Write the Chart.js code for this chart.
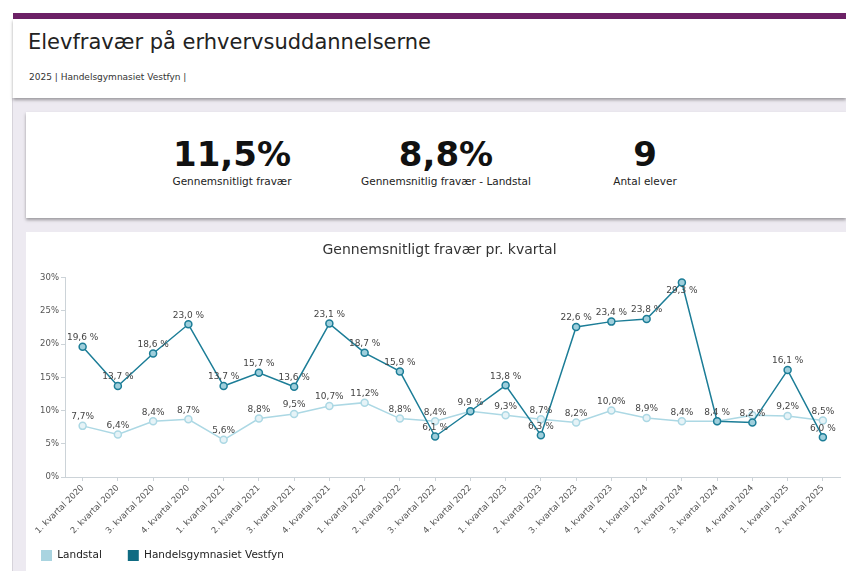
<!DOCTYPE html>
<html lang="da">
<head>
<meta charset="UTF-8">
<title>Elevfravær på erhvervsuddannelserne</title>
<script src="https://cdn.jsdelivr.net/npm/chart.js"></script>
</head>
<body style="margin:0;width:846px;height:571px;overflow:hidden;background:#fff;font-family:'DejaVu Sans',Verdana,sans-serif;position:relative;">
  <!-- purple top bar + header panel -->
  <div style="position:absolute;left:13px;top:13px;right:0;height:6px;background:#6c2166;"></div>
  <div style="position:absolute;left:13px;top:19px;right:0;height:79px;background:#fff;box-shadow:0 2px 3px rgba(0,0,0,0.35);z-index:2;">
    <div style="position:absolute;left:15px;top:11px;font-size:21px;color:#222;">Elevfravær på erhvervsuddannelserne</div>
    <div style="position:absolute;left:16px;top:53px;font-size:9px;color:#333;">2025 | Handelsgymnasiet Vestfyn |</div>
  </div>
  <!-- lavender backdrop -->
  <div style="position:absolute;left:12px;top:98px;right:0;bottom:0;background:#edeaf1;border-left:1px solid #d6d3da;"></div>

  <!-- KPI card -->
  <div style="position:absolute;left:26px;top:112px;right:0;height:106px;background:#fff;box-shadow:0 2px 3px rgba(0,0,0,0.35);">
    <div id="kpis"></div>
  </div>

  <!-- chart card -->
  <div style="position:absolute;left:26px;top:232px;right:0;bottom:0;background:#fff;">
    <div style="position:relative;width:820px;height:339px;">
      <canvas id="fravaerChart"></canvas>
    </div>
  </div>

  <script>
    const quarters = [
      '1. kvartal 2020','2. kvartal 2020','3. kvartal 2020','4. kvartal 2020',
      '1. kvartal 2021','2. kvartal 2021','3. kvartal 2021','4. kvartal 2021',
      '1. kvartal 2022','2. kvartal 2022','3. kvartal 2022','4. kvartal 2022',
      '1. kvartal 2023','2. kvartal 2023','3. kvartal 2023','4. kvartal 2023',
      '1. kvartal 2024','2. kvartal 2024','3. kvartal 2024','4. kvartal 2024',
      '1. kvartal 2025','2. kvartal 2025'
    ];
    const landstal = [7.7, 6.4, 8.4, 8.7, 5.6, 8.8, 9.5, 10.7, 11.2, 8.8, 8.4, 9.9,
                      9.3, 8.7, 8.2, 10.0, 8.9, 8.4, 8.4, 9.3, 9.2, 8.5];
    const skole = [19.6, 13.7, 18.6, 23.0, 13.7, 15.7, 13.6, 23.1, 18.7, 15.9, 6.1, 9.9,
                   13.8, 6.3, 22.6, 23.4, 23.8, 29.3, 8.4, 8.2, 16.1, 6.0];
    const yTicks = [0, 5, 10, 15, 20, 25, 30];

    const kpiValues = ['11,5%', '8,8%', '9'];
    const kpiLabels = ['Gennemsnitligt fravær', 'Gennemsnitlig fravær - Landstal', 'Antal elever'];
    const kpiCenters = [206, 420, 619];

    // KPI boxes
    const kpis = document.getElementById('kpis');
    kpiValues.forEach((v, i) => {
      const d = document.createElement('div');
      d.style.cssText = `position:absolute;top:22px;left:${kpiCenters[i] - 120}px;width:240px;text-align:center;color:#111;`;
      d.innerHTML = `
        <div style="font-size:34px;font-weight:bold;line-height:40px;">${v}</div>
        <div style="font-size:10.5px;color:#222;margin-top:1px;">${kpiLabels[i]}</div>
      `;
      kpis.appendChild(d);
    });

    const fmt = (v, sep) => v.toFixed(1).replace('.', ',') + sep + '%';

    // value labels above the points, hiding ones that collide (school drawn first)
    const pointLabels = {
      id: 'pointLabels',
      afterDatasetsDraw(chart) {
        const ctx = chart.ctx;
        const top = chart.chartArea.top;
        ctx.save();
        ctx.font = '9px "DejaVu Sans"';
        ctx.fillStyle = '#444';
        ctx.textAlign = 'center';
        ctx.textBaseline = 'middle';
        const boxes = [];
        [1, 0].forEach(di => {
          const meta = chart.getDatasetMeta(di);
          const vals = chart.data.datasets[di].data;
          const sep = di === 1 ? ' ' : '';
          meta.data.forEach((pt, i) => {
            const txt = fmt(vals[i], sep);
            const w = ctx.measureText(txt).width;
            let cy = pt.y - 9;
            if (cy - 5 < top) cy = pt.y + 8;   // keep inside the plot
            const cx = pt.x;
            const b = { l: cx - w / 2, r: cx + w / 2, t: cy - 5, b: cy + 5 };
            if (boxes.some(o => b.l < o.r && b.r > o.l && b.t < o.b && b.b > o.t)) return;
            boxes.push(b);
            ctx.fillText(txt, cx, cy);
          });
        });
        ctx.restore();
      }
    };

    // tighter legend block, nudged up/left; title nudged right
    const boxTweaks = {
      id: 'boxTweaks',
      afterInit(chart) {
        const lg = chart.legend;
        const origFit = lg.fit.bind(lg);
        lg.fit = function () { origFit(); this.height = 32; };
      },
      afterLayout(chart) {
        const lg = chart.legend;
        lg.left -= 11; lg.right -= 11;
        lg.top -= 15;
        chart.titleBlock.left += 5;
        chart.titleBlock.right += 5;
      }
    };

    const ctx = document.getElementById('fravaerChart').getContext('2d');
    new Chart(ctx, {
      type: 'line',
      data: {
        labels: quarters,
        datasets: [
          {
            label: 'Landstal',
            data: landstal,
            borderColor: '#acd8e4',
            backgroundColor: '#a9d4e0',
            pointBackgroundColor: '#e6f3f7',
            pointBorderColor: '#acd8e4',
            pointRadius: 3.5,
            pointBorderWidth: 1.5,
            borderWidth: 1.5,
            tension: 0,
            order: 2
          },
          {
            label: 'Handelsgymnasiet Vestfyn',
            data: skole,
            borderColor: '#1c7d97',
            backgroundColor: '#0f6b82',
            pointBackgroundColor: '#9fcfdc',
            pointBorderColor: '#1c7d97',
            pointRadius: 3.5,
            pointBorderWidth: 1.5,
            borderWidth: 1.5,
            tension: 0,
            order: 1
          }
        ]
      },
      options: {
        responsive: true,
        maintainAspectRatio: false,
        animation: false,
        layout: { padding: { left: 0, right: 3, top: 0, bottom: 0 } },
        plugins: {
          title: {
            display: true,
            text: 'Gennemsnitligt fravær pr. kvartal',
            color: '#333',
            font: { family: 'DejaVu Sans', size: 14, weight: 'normal' },
            padding: { top: 10, bottom: 19 }
          },
          legend: {
            position: 'bottom',
            align: 'start',
            labels: {
              color: '#222',
              font: { family: 'DejaVu Sans', size: 10.5 },
              boxWidth: 11,
              boxHeight: 11,
              padding: 26,
              generateLabels(chart) {
                return chart.data.datasets.map((ds, i) => ({
                  text: ds.label,
                  fillStyle: ds.backgroundColor,
                  strokeStyle: ds.backgroundColor,
                  lineWidth: 0,
                  datasetIndex: i,
                  fontColor: '#222'
                }));
              }
            }
          },
          tooltip: { enabled: false }
        },
        scales: {
          x: {
            offset: true,
            grid: { display: true, drawOnChartArea: false, drawTicks: true, tickLength: 4, color: '#ccd3d8', offset: false },
            border: { display: true, color: '#ccd3d8' },
            ticks: {
              color: '#555',
              font: { family: 'DejaVu Sans', size: 8.5 },
              maxRotation: 45,
              minRotation: 45,
              autoSkip: false,
              padding: 2
            },
            afterFit(s) { s.height = 62; }
          },
          y: {
            min: yTicks[0],
            max: yTicks[yTicks.length - 1],
            afterBuildTicks(s) { s.ticks = yTicks.map(v => ({ value: v })); },
            grid: { display: true, drawOnChartArea: false, drawTicks: true, tickLength: 4, color: '#ccd3d8' },
            border: { display: true, color: '#ccd3d8' },
            ticks: {
              color: '#555',
              font: { family: 'DejaVu Sans', size: 8.5 },
              padding: 2,
              callback: v => v + '%'
            },
            afterFit(s) { s.width = 39; }
          }
        }
      },
      plugins: [pointLabels, boxTweaks]
    });
  </script>
</body>
</html>
